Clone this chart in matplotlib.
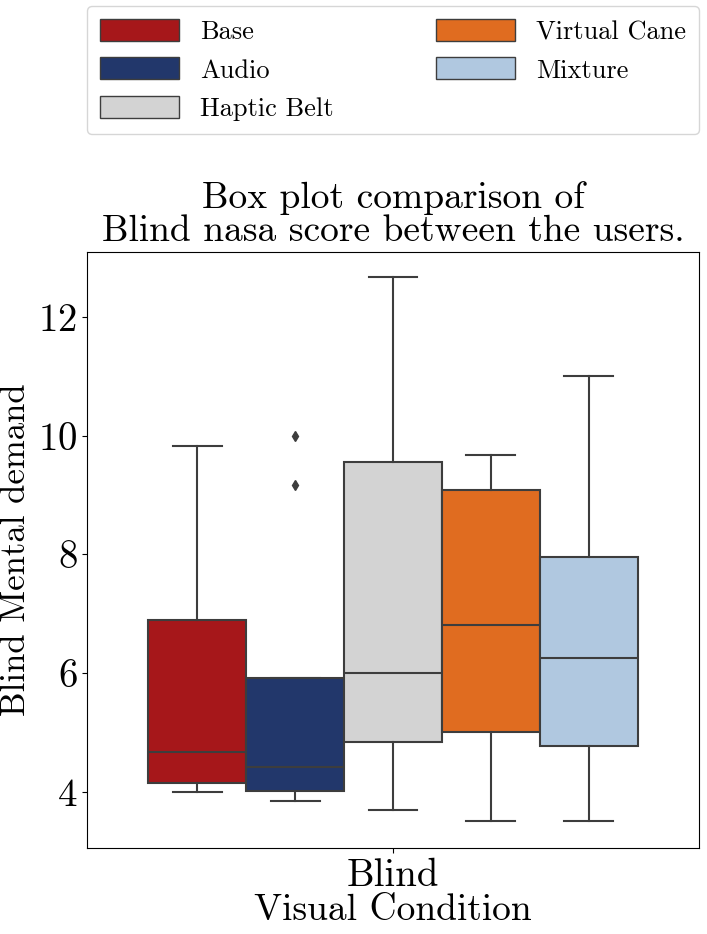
import matplotlib
matplotlib.use("Agg")
import matplotlib.pyplot as plt
from matplotlib.patches import Patch

plt.rcParams['font.family'] = ['cmr10', 'DejaVu Serif']
plt.rcParams['mathtext.fontset'] = 'cm'
plt.rcParams['axes.formatter.use_mathtext'] = True

labels = ["Base", "Audio", "Haptic Belt", "Virtual Cane", "Mixture"]
colors = ["#a6171a", "#22376b", "#d3d3d3", "#e06c20", "#b0c8e0"]
whislo = [4.0, 3.85, 3.7, 3.52, 3.52]
q1 = [4.15, 4.02, 4.85, 5.02, 4.77]
med = [4.68, 4.43, 6.0, 6.82, 6.25]
q3 = [6.9, 5.92, 9.55, 9.08, 7.95]
whishi = [9.83, 5.92, 12.67, 9.67, 11.0]
fliers = [[], [9.17, 10.0], [], [], []]
positions = [-0.32, -0.16, 0.0, 0.16, 0.32]

fig = plt.figure(figsize=(7.07, 9.34), dpi=100)
ax = fig.add_axes([87/707, 1-848/934, 612/707, 596/934])
stats = [dict(whislo=whislo[i], q1=q1[i], med=med[i], q3=q3[i], whishi=whishi[i], fliers=fliers[i]) for i in range(5)]
lc = "#3d3d3d"
b = ax.bxp(stats, positions=positions, widths=0.16*0.995, patch_artist=True, showcaps=True,
           boxprops=dict(edgecolor=lc, linewidth=1.5),
           medianprops=dict(color=lc, linewidth=1.5),
           whiskerprops=dict(color=lc, linewidth=1.5),
           capprops=dict(color=lc, linewidth=1.5),
           flierprops=dict(marker='d', markerfacecolor=lc, markeredgecolor=lc, markersize=5))
for p, c in zip(b['boxes'], colors):
    p.set_facecolor(c)
for cap in b['caps']:
    x = cap.get_xdata(); m = x.mean(); cap.set_xdata([m-0.04, m+0.04])
ax.set_xlim(-0.5, 0.5)
ax.set_ylim(3.06, 13.09)
ax.set_xticks([0]); ax.set_xticklabels(["Blind"])
ax.set_yticks([4, 6, 8, 10, 12])
ax.tick_params(labelsize=28)
ax.set_xlabel("Visual Condition", fontsize=27, labelpad=0)
ax.set_ylabel("Blind Mental demand", fontsize=25, labelpad=4)
ax.set_title("Box plot comparison of\nBlind nasa score between the users.", fontsize=27, linespacing=1.0, pad=8)
handles = [Patch(facecolor=c, edgecolor=lc, label=l) for c, l in zip(colors, labels)]
fig.legend(handles=handles, loc='upper left', bbox_to_anchor=(87/707, 1-6/934, 612/707, 0), mode='expand',
           borderaxespad=0, ncol=2, fontsize=19, handlelength=3.0, handleheight=0.9, borderpad=0.5,
           labelspacing=0.5)
fig.savefig("out.png", dpi=100)
